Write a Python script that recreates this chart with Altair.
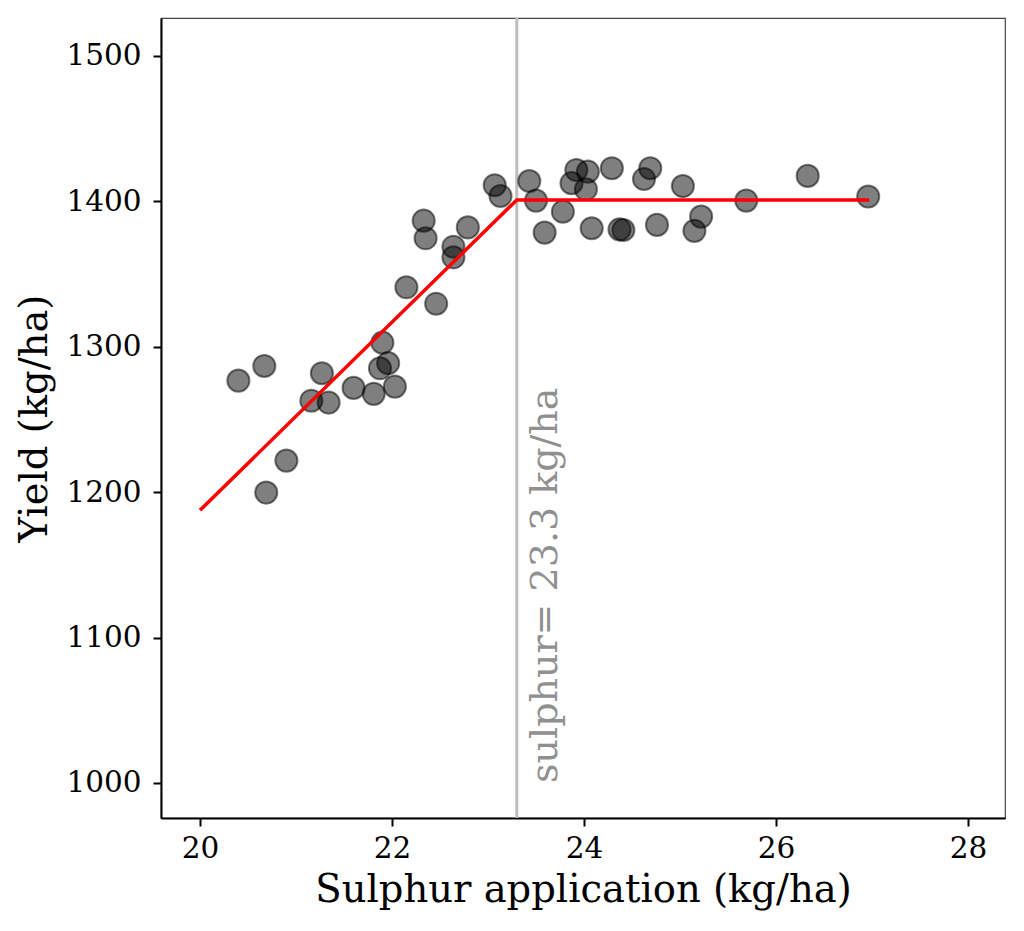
import altair as alt
import pandas as pd

sulphur = [20.40, 20.67, 20.90, 20.69, 21.27, 21.16, 21.34, 21.60, 21.81, 22.03,
           21.90, 21.96, 21.875, 22.15, 22.46, 22.33, 22.35, 22.64, 22.64, 22.79,
           23.07, 23.13, 23.43, 23.50, 23.78, 23.59, 23.92, 24.04, 23.87, 24.02,
           24.29, 24.08, 24.41, 24.37, 24.69, 24.625, 24.76, 25.03, 25.22, 25.15,
           25.69, 26.33, 26.96]
yield_ = [1276.7, 1286.8, 1221.7, 1199.7, 1281.8, 1262.9, 1261.6, 1271.7, 1267.6, 1272.6,
          1302.8, 1288.7, 1285.2, 1340.9, 1329.6, 1386.7, 1374.6, 1368.8, 1361.5, 1382.1,
          1411.1, 1403.7, 1414.0, 1400.5, 1392.9, 1378.5, 1421.6, 1420.4, 1412.5, 1408.3,
          1422.8, 1381.5, 1380.3, 1380.7, 1422.8, 1415.4, 1383.8, 1410.5, 1389.5, 1379.7,
          1400.5, 1417.5, 1403.3]

# Fitted linear-plateau model
fit_x = [20.0, 23.3, 26.97]
fit_y = [1187.5, 1401.0, 1401.0]

breakpoint = 23.3
label_y = 1000

pts = pd.DataFrame({"x": sulphur, "y": yield_})
fit = pd.DataFrame({"x": fit_x, "y": fit_y})
vline = pd.DataFrame({"x": [breakpoint]})
lab = pd.DataFrame({"x": [breakpoint], "y": [label_y],
                    "t": [f"sulphur= {breakpoint} kg/ha"]})

FONT = "DejaVu Serif"
xs = alt.Scale(domain=[19.594, 28.385], nice=False, zero=False)
ys = alt.Scale(domain=[975.9, 1526.1], nice=False, zero=False)

xaxis = alt.Axis(title="Sulphur application (kg/ha)", values=[20, 22, 24, 26, 28],
                 grid=False, format="d", labelFont=FONT, labelFontSize=29.5,
                 titleFont=FONT, titleFontSize=38.5, titleFontWeight="normal",
                 labelColor="black", titleColor="black", tickColor="black",
                 domainColor="black", domainWidth=2, tickWidth=2, tickSize=8,
                 labelPadding=8, titlePadding=9)
yaxis = alt.Axis(title="Yield (kg/ha)", values=[1000, 1100, 1200, 1300, 1400, 1500],
                 grid=False, format="d", labelFont=FONT, labelFontSize=29.5,
                 titleFont=FONT, titleFontSize=38.5, titleFontWeight="normal",
                 labelColor="black", titleColor="black", tickColor="black",
                 domainColor="black", domainWidth=2, tickWidth=2, tickSize=8,
                 labelPadding=12, titlePadding=11)

base_x = alt.X("x:Q", scale=xs, axis=xaxis)
base_y = alt.Y("y:Q", scale=ys, axis=yaxis)

rule = alt.Chart(vline).mark_rule(color="#bdbdbd", strokeWidth=3).encode(
    x=alt.X("x:Q", scale=xs, axis=xaxis))

points = alt.Chart(pts).mark_point(
    shape="circle", filled=True, fill="black", fillOpacity=0.5,
    stroke="black", strokeOpacity=0.5, strokeWidth=2, size=490
).encode(x=base_x, y=base_y)

line = alt.Chart(fit).mark_line(color="red", strokeWidth=3.5).encode(x=base_x, y=base_y)

text = alt.Chart(lab).mark_text(
    font=FONT, fontSize=38, color="#909090", angle=270, align="left",
    baseline="alphabetic", dy=40
).encode(x=base_x, y=base_y, text="t:N")

chart = alt.layer(rule, points, line, text).properties(
    width=844, height=800,
    autosize=alt.AutoSizeParams(type="none"),
    padding={"left": 153, "top": 10, "right": 11, "bottom": 105},
).configure_view(stroke="#444444", strokeWidth=1.2)

chart.save("out.html", embed_options={"renderer": "svg", "actions": False})
